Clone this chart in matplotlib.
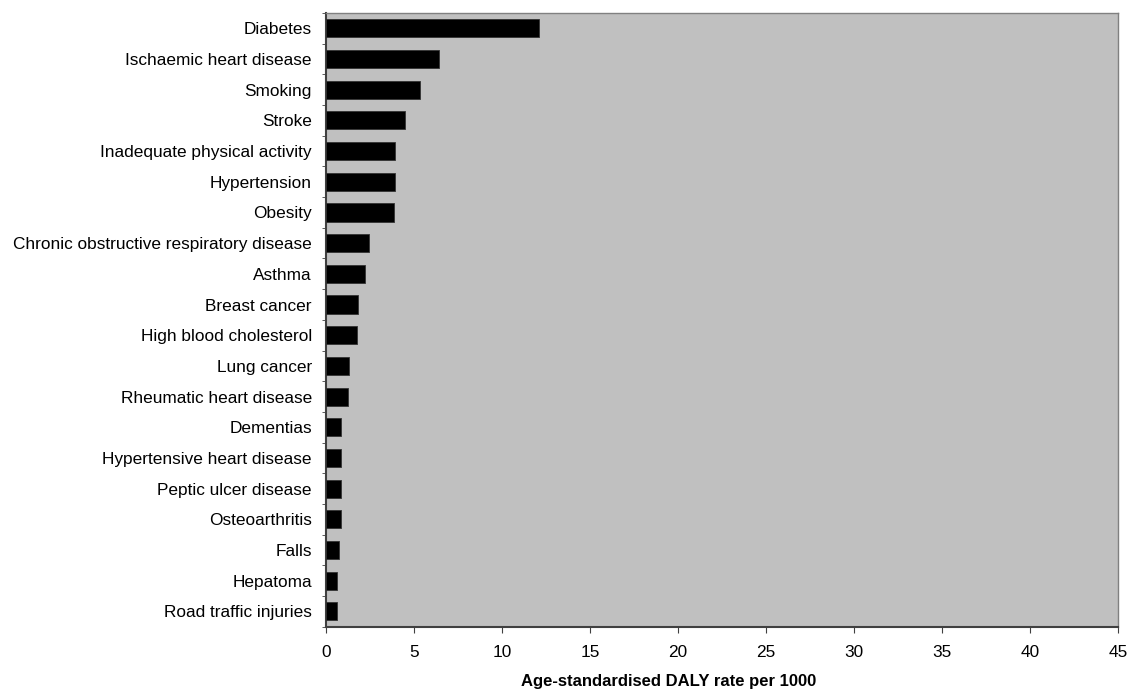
import matplotlib.pyplot as plt
import numpy as np

plt.rcParams['font.family'] = ['Liberation Sans', 'DejaVu Sans']

categories = ['Diabetes', 'Ischaemic heart disease', 'Smoking', 'Stroke',
              'Inadequate physical activity', 'Hypertension', 'Obesity',
              'Chronic obstructive respiratory disease', 'Asthma',
              'Breast cancer', 'High blood cholesterol', 'Lung cancer',
              'Rheumatic heart disease', 'Dementias',
              'Hypertensive heart disease', 'Peptic ulcer disease',
              'Osteoarthritis', 'Falls', 'Hepatoma', 'Road traffic injuries']
daly_rate = [12.1, 6.45, 5.35, 4.5, 3.95, 3.95, 3.85, 2.45, 2.25, 1.85,
             1.75, 1.35, 1.25, 0.85, 0.85, 0.85, 0.85, 0.75, 0.65, 0.65]
xticks = [0, 5, 10, 15, 20, 25, 30, 35, 40, 45]

fig = plt.figure(figsize=(11.4, 6.93), dpi=100)
ax = fig.add_axes([0.2857, 0.0957, 0.6953, 0.8855])
ax.set_facecolor('#c0c0c0')

y_pos = np.arange(len(categories))
ax.barh(y_pos, daly_rate, height=0.59, color='black',
        edgecolor='#333333', linewidth=0.6, zorder=3)

ax.set_ylim(len(categories) - 0.5, -0.5)
ax.set_xlim(0, 45)
ax.set_xticks(xticks)
ax.set_xticklabels([str(t) for t in xticks], fontsize=12.4)

# category labels centred on bars, tick marks between categories
ax.set_yticks(y_pos)
ax.set_yticklabels(categories, fontsize=12.4)
ax.tick_params(axis='y', length=0, pad=10)
ax.set_yticks(np.arange(-0.5, len(categories), 1), minor=True)
ax.tick_params(axis='y', which='minor', length=3, color='#404040')
ax.tick_params(axis='x', length=4, color='#404040', pad=9)

for side in ['left', 'bottom']:
    ax.spines[side].set_color('#404040')
    ax.spines[side].set_linewidth(1.5)
for side in ['top', 'right']:
    ax.spines[side].set_color('#808080')
    ax.spines[side].set_linewidth(1.0)

ax.set_xlabel('Age-standardised DALY rate per 1000', fontsize=12,
              fontweight='bold', labelpad=10, x=0.433)

fig.savefig('out.png', dpi=100)
